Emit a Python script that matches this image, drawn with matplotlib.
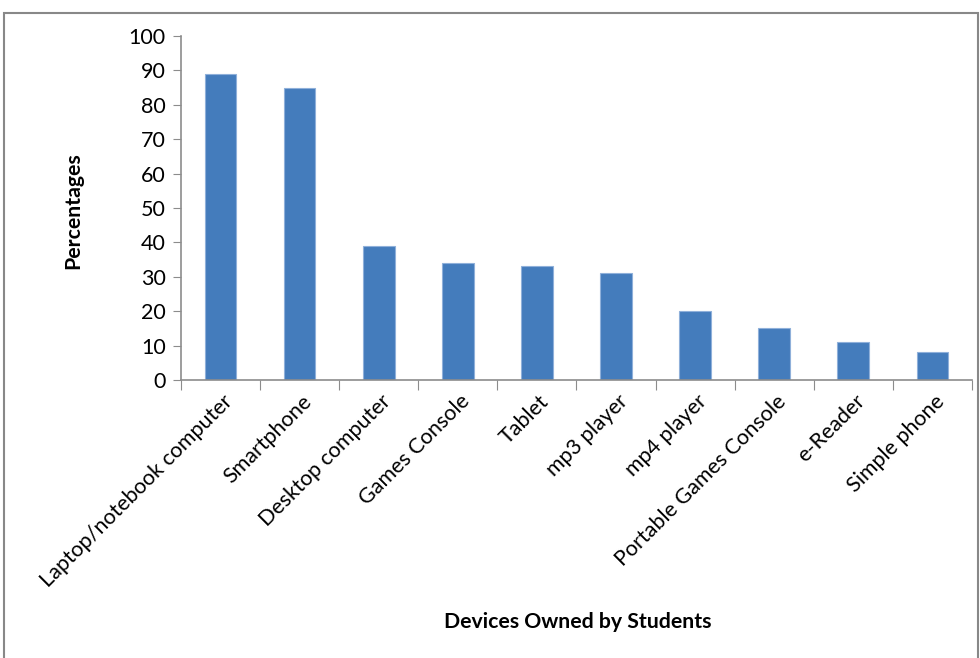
import matplotlib.pyplot as plt
from matplotlib.patches import Rectangle
from matplotlib.transforms import ScaledTranslation
import numpy as np

plt.rcParams['font.family'] = ['Lato', 'DejaVu Sans']

devices = ["Laptop/notebook computer", "Smartphone", "Desktop computer",
           "Games Console", "Tablet", "mp3 player", "mp4 player",
           "Portable Games Console", "e-Reader", "Simple phone"]
percent = [89, 85, 39, 34, 33, 31, 20, 15, 11, 8]

fig = plt.figure(figsize=(9.8, 6.58), dpi=100)
ax = fig.add_axes([0.1847, 0.4225, 0.807, 0.5228])

x = np.arange(len(devices))
ax.bar(x, percent, width=0.4, color='#447CBC', edgecolor='#8FB0DA',
       linewidth=0.8, zorder=2)

ax.set_xlim(-0.5, len(devices) - 0.5)
ax.set_ylim(0, 100)
ax.set_yticks(range(0, 101, 10))

# ticks sit between categories, labels at category centres
ax.set_xticks(np.arange(-0.5, len(devices), 1))
ax.set_xticklabels([])
ax.set_xticks(x, minor=True)
ax.set_xticklabels(devices, minor=True, rotation=45, ha='right',
                   va='center', rotation_mode='anchor', fontsize=15.5)
ax.tick_params(axis='x', which='minor', length=0, pad=13)
ax.tick_params(axis='x', which='major', length=7, color='#8c8c8c')
ax.tick_params(axis='y', length=6, color='#8c8c8c', labelsize=15.5, pad=5)
off = ScaledTranslation(0.09, 0, fig.dpi_scale_trans)
for lab in ax.get_xticklabels(minor=True):
    lab.set_transform(lab.get_transform() + off)

for s in ['top', 'right']:
    ax.spines[s].set_visible(False)
for s in ['left', 'bottom']:
    ax.spines[s].set_color('#8c8c8c')
    ax.spines[s].set_linewidth(1.2)

fig.text(0.075, 0.68, "Percentages", rotation=90, ha='center',
         va='center', fontsize=15.3, fontweight='bold')
fig.text(0.59, 0.055, "Devices Owned by Students", ha='center',
         va='center', fontsize=15.3, fontweight='bold')

fig.patches.append(Rectangle((0.004, -0.05), 0.994, 1.03, transform=fig.transFigure,
                             fill=False, edgecolor='#888888', linewidth=1.5))

fig.savefig('out.png', dpi=100)
